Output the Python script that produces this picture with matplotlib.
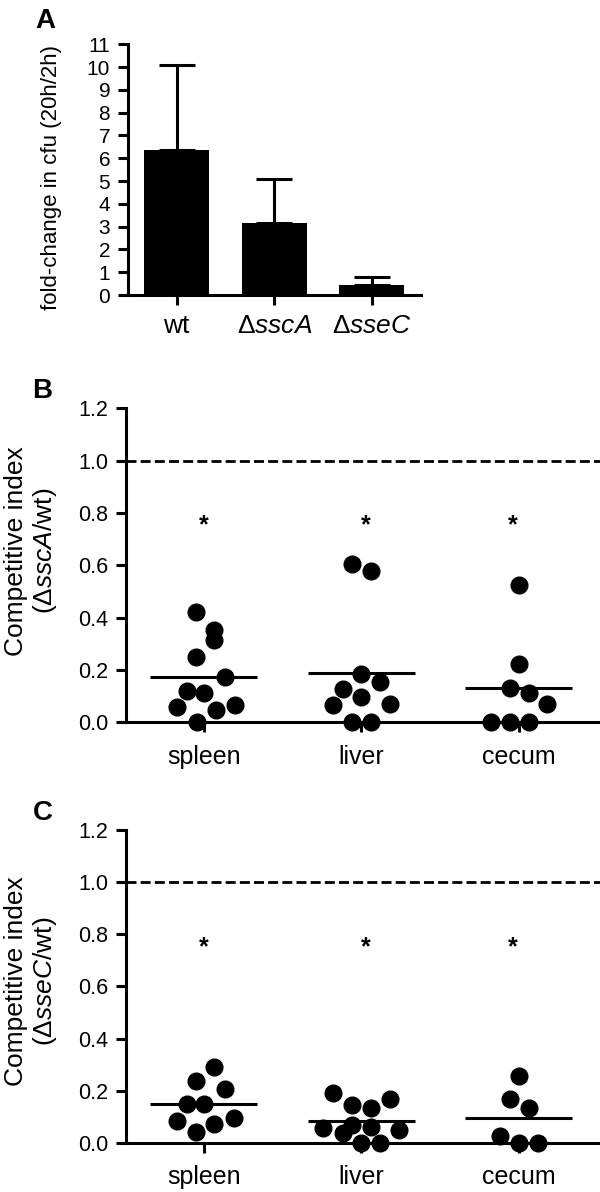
import numpy as np
import matplotlib
matplotlib.use('Agg')
import matplotlib.pyplot as plt

plt.rcParams['font.family'] = ['Liberation Sans', 'DejaVu Sans']
plt.rcParams['mathtext.fontset'] = 'custom'
plt.rcParams['mathtext.rm'] = 'Liberation Sans'
plt.rcParams['mathtext.it'] = 'Liberation Sans:italic'

# panel A - fold change in cfu
strains = ['wt', 'Δ$\\mathit{sscA}$', 'Δ$\\mathit{sseC}$']
fold_mean = [6.38, 3.14, 0.45]
fold_sd = [3.71, 1.94, 0.33]

organs = ['spleen', 'liver', 'cecum']

# panel B - sscA competitive index (values, horizontal jitter as drawn)
sscA_spleen = [0.423, 0.353, 0.315, 0.251, 0.175, 0.120, 0.111, 0.060, 0.047, 0.066, 0.0]
sscA_spleen_dx = [-0.05, 0.066, 0.066, -0.05, 0.133, -0.11, 0.0, -0.174, 0.076, 0.197, -0.047]
sscA_liver = [0.604, 0.580, 0.183, 0.155, 0.126, 0.098, 0.066, 0.070, 0.0, 0.0]
sscA_liver_dx = [-0.059, 0.061, 0.0, 0.121, -0.119, 0.0, -0.18, 0.18, -0.059, 0.061]
sscA_cecum = [0.525, 0.223, 0.130, 0.113, 0.070, 0.0, 0.0, 0.0]
sscA_cecum_dx = [0.0, 0.0, -0.059, 0.061, 0.18, -0.18, -0.059, 0.061]

# panel C - sseC competitive index
sseC_spleen = [0.291, 0.239, 0.208, 0.148, 0.148, 0.084, 0.074, 0.096, 0.042]
sseC_spleen_dx = [0.066, -0.05, 0.133, -0.11, 0.0, -0.174, 0.066, 0.193, -0.05]
sseC_liver = [0.192, 0.170, 0.144, 0.134, 0.068, 0.061, 0.057, 0.049, 0.040, 0.0, 0.0]
sseC_liver_dx = [-0.18, 0.18, -0.059, 0.061, -0.059, 0.061, -0.241, 0.241, -0.119, 0.0, 0.121]
sseC_cecum = [0.255, 0.170, 0.135, 0.026, 0.0, 0.0]
sseC_cecum_dx = [0.0, -0.059, 0.061, -0.119, 0.0, 0.121]

star_y = 0.78
star_dx = [0.0, 0.025, -0.04]


def style_axes(ax):
    ax.spines['top'].set_visible(False)
    ax.spines['right'].set_visible(False)
    ax.spines['left'].set_linewidth(2.2)
    ax.spines['bottom'].set_linewidth(2.2)
    ax.tick_params(axis='both', width=2.2, length=7, direction='out')


def ci_panel(ax, groups, offsets, ylabel_text, label_y):
    style_axes(ax)
    ax.axhline(1.0, color='k', lw=2, ls=(0, (3.6, 1.5)), zorder=1)
    for i, (vals, dx) in enumerate(zip(groups, offsets)):
        ax.plot(i + np.array(dx), vals, 'o', color='k', ms=12, clip_on=False, zorder=3)
        # horizontal bar = mean of the group
        ax.hlines(np.mean(vals), i - 0.34, i + 0.34, color='k', lw=2.2, zorder=2)
        ax.annotate('*', (i + star_dx[i], star_y), xytext=(0, -10.4),
                    textcoords='offset points', ha='center', va='baseline',
                    fontsize=18, fontweight='bold')
    ax.set_xlim(-0.495, 2.515)
    ax.set_ylim(0, 1.2)
    ax.set_yticks(np.arange(0, 1.21, 0.2))
    ax.set_yticklabels(['%.1f' % v for v in np.arange(0, 1.21, 0.2)])
    ax.set_xticks(range(3))
    ax.set_xticklabels(organs)
    ax.tick_params(axis='y', labelsize=15.5, pad=6)
    ax.tick_params(axis='x', labelsize=18, pad=9)
    fig.text(0.053, label_y, ylabel_text, rotation=90, ha='center', va='center',
             multialignment='center', fontsize=19, linespacing=1.15)


fig = plt.figure(figsize=(6, 11.92), dpi=100)

# A
axA = fig.add_axes([0.2138, 0.7525, 0.4873, 0.2103])
style_axes(axA)
x = np.arange(len(strains))
axA.bar(x, fold_mean, width=0.665, color='k', zorder=2)
axA.errorbar(x, fold_mean, yerr=[np.zeros(len(x)), fold_sd], fmt='none',
             ecolor='k', elinewidth=2.2, capsize=13, capthick=2.2, zorder=1)
axA.set_xlim(-0.495, 2.5)
axA.set_ylim(0, 11)
axA.set_yticks(range(0, 12))
axA.set_xticks(x)
axA.set_xticklabels(strains)
axA.tick_params(axis='y', labelsize=15, pad=6)
axA.tick_params(axis='x', labelsize=19, pad=7)
fig.text(52 / 600, 1 - 178 / 1192, 'fold-change in cfu (20h/2h)', rotation=90,
         ha='center', va='center', fontsize=16)

# B
axB = fig.add_axes([0.21, 0.394, 0.79, 0.2634])
ci_panel(axB, [sscA_spleen, sscA_liver, sscA_cecum],
         [sscA_spleen_dx, sscA_liver_dx, sscA_cecum_dx],
         'Competitive index\n(Δ$\\mathit{sscA}$/wt)', 0.538)

# C
axC = fig.add_axes([0.21, 0.0411, 0.79, 0.2628])
ci_panel(axC, [sseC_spleen, sseC_liver, sseC_cecum],
         [sseC_spleen_dx, sseC_liver_dx, sseC_cecum_dx],
         'Competitive index\n(Δ$\\mathit{sseC}$/wt)', 0.177)

for letter, lx, ly in [('A', 35, 8), ('B', 32, 378), ('C', 33, 800)]:
    fig.text(lx / 600, 1 - ly / 1192, letter, fontsize=20, fontweight='bold',
             ha='left', va='top')

fig.savefig('out.png', dpi=100)
